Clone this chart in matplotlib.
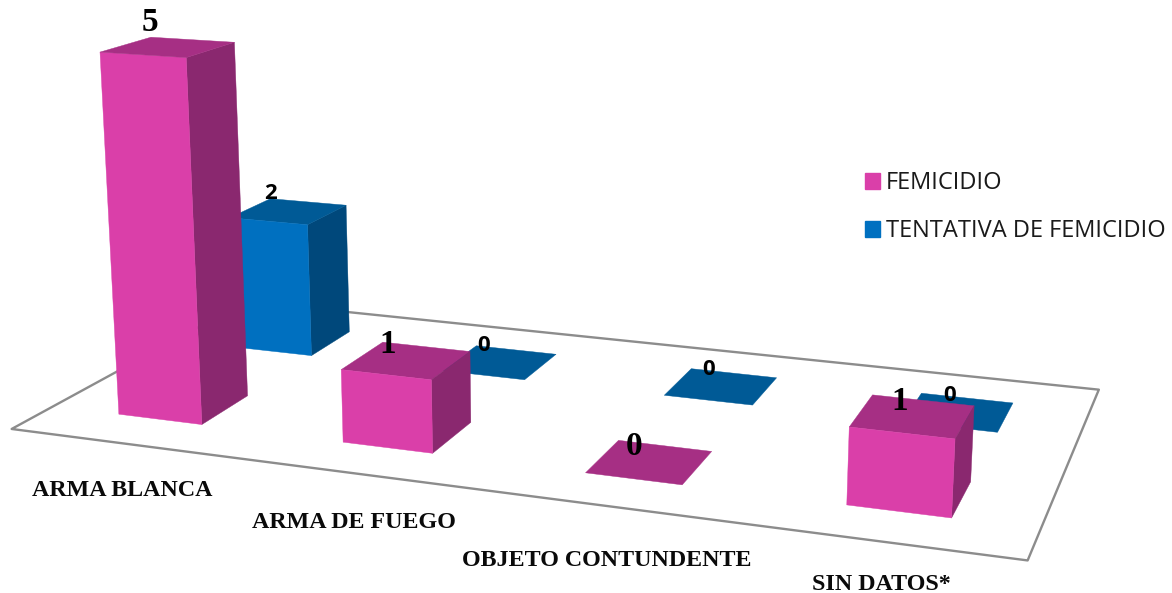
import numpy as np
import matplotlib
matplotlib.use('Agg')
import matplotlib.pyplot as plt
from matplotlib.patches import Patch
from mpl_toolkits.mplot3d.art3d import Poly3DCollection

categories = ['ARMA BLANCA', 'ARMA DE FUEGO', 'OBJETO CONTUNDENTE', 'SIN DATOS*']
femicidio = [5, 1, 0, 1]
tentativa = [2, 0, 0, 0]
series_names = ['FEMICIDIO', 'TENTATIVA DE FEMICIDIO']

PINK = ('#DA3FA9', '#8A286F', '#A62F84')
BLUE = ('#0070C0', '#00487B', '#005A96')

# camera
AZIM, ELEV, ROLL, FOCAL = -70.183, 14.081, 0.021, 0.3615
LX, LY = 0.9939, 0.2848
WX, WY = 0.3787, 0.3938
S, TX, TY = 6166.96, 569.05, 232.22

# text layout (pixels)
CAT_X = [122, 354, 607, 881]
CAT_Y = [490, 522, 560, 584]
LABEL_FRAC = [0.0, 0.08, 0.17, 0.28]
PINK_DX = [-1, -2, 0, -1]
PINK_DY = [15, -2, -5, -4]
BLUE_DX = [0, 1, 3, 3]
BLUE_DY = [5, 0, 0, 0]

W, H = 1172, 593
fig = plt.figure(figsize=(W/100, H/100), dpi=100)
ax = fig.add_axes([0, 0, 1, 1], projection='3d')
ax.set_axis_off()
ax.set_xlim(0, len(categories)); ax.set_ylim(0, 2); ax.set_zlim(0, max(femicidio))
ax.view_init(elev=ELEV, azim=AZIM, roll=ROLL)
ax.set_proj_type('persp', focal_length=FOCAL)
ax.set_box_aspect((np.exp(LX), np.exp(LY), 1))
ax.computed_zorder = False

vl = ax.viewLim
L = S*(vl.x1-vl.x0)
ax.set_position([(TX+S*vl.x0)/W, ((H-TY)+S*vl.y0)/H, L/W, L/H])

def add_bar(i, j, v, colors, z):
    x0, x1 = i+.5-WX/2, i+.5+WX/2
    y0, y1 = j+.5-WY/2, j+.5+WY/2
    faces, cols = [], []
    if v > 0:
        faces += [[(x0, y0, 0), (x1, y0, 0), (x1, y0, v), (x0, y0, v)],
                  [(x1, y0, 0), (x1, y1, 0), (x1, y1, v), (x1, y0, v)]]
        cols += [colors[0], colors[1]]
    faces.append([(x0, y0, v), (x1, y0, v), (x1, y1, v), (x0, y1, v)])
    cols.append(colors[2])
    c = Poly3DCollection(faces, facecolors=cols, edgecolors=cols, linewidths=.3, zorder=z)
    ax.add_collection3d(c, autolim=False)

n = len(categories)
floor = Poly3DCollection([[(0, 0, 0), (n, 0, 0), (n, 2, 0), (0, 2, 0)]],
                         facecolors='white', edgecolors='#8C8C8C', linewidths=1.7, zorder=1)
ax.add_collection3d(floor, autolim=False)
for i, v in enumerate(tentativa):
    add_bar(i, 1, v, BLUE, 2+i)
for i, v in enumerate(femicidio):
    add_bar(i, 0, v, PINK, 10+i)

M = ax.get_proj()
def project(x, y, z):
    p = M @ np.array([x, y, z, 1.0])
    return p[0]/p[3], p[1]/p[3]

def label(i, j, v, dx, dy, **kw):
    x = i+.5-WX/2+LABEL_FRAC[i]*WX
    y = j+.5+WY/2
    ax.annotate(str(v), xy=project(x, y, v), xycoords='data', xytext=(dx, dy),
                textcoords='offset pixels', ha='center', va='center',
                annotation_clip=False, zorder=50, color='black', **kw)

for i, v in enumerate(femicidio):
    label(i, 0, v, PINK_DX[i], PINK_DY[i], family='Liberation Serif', fontweight='bold', fontsize=24)
for i, v in enumerate(tentativa):
    label(i, 1, v, BLUE_DX[i], BLUE_DY[i], family='Open Sans', fontweight='bold', fontsize=16)

for name, x, y in zip(categories, CAT_X, CAT_Y):
    fig.text(x/W, 1-y/H, name, ha='center', va='center', family='Liberation Serif',
             fontweight='bold', fontsize=17.3, color='#0a0a0a')

handles = [Patch(color=PINK[0]), Patch(color=BLUE[0])]
fig.legend(handles, series_names, loc='upper left', bbox_to_anchor=(864.5/W, 1-171/H),
           frameon=False, borderpad=0, borderaxespad=0, prop={'family': 'Open Sans', 'size': 17},
           handlelength=.64, handleheight=.64, handletextpad=.28, labelspacing=1.03,
           labelcolor='#1a1a1a')
fig.savefig('out.png', dpi=100)
